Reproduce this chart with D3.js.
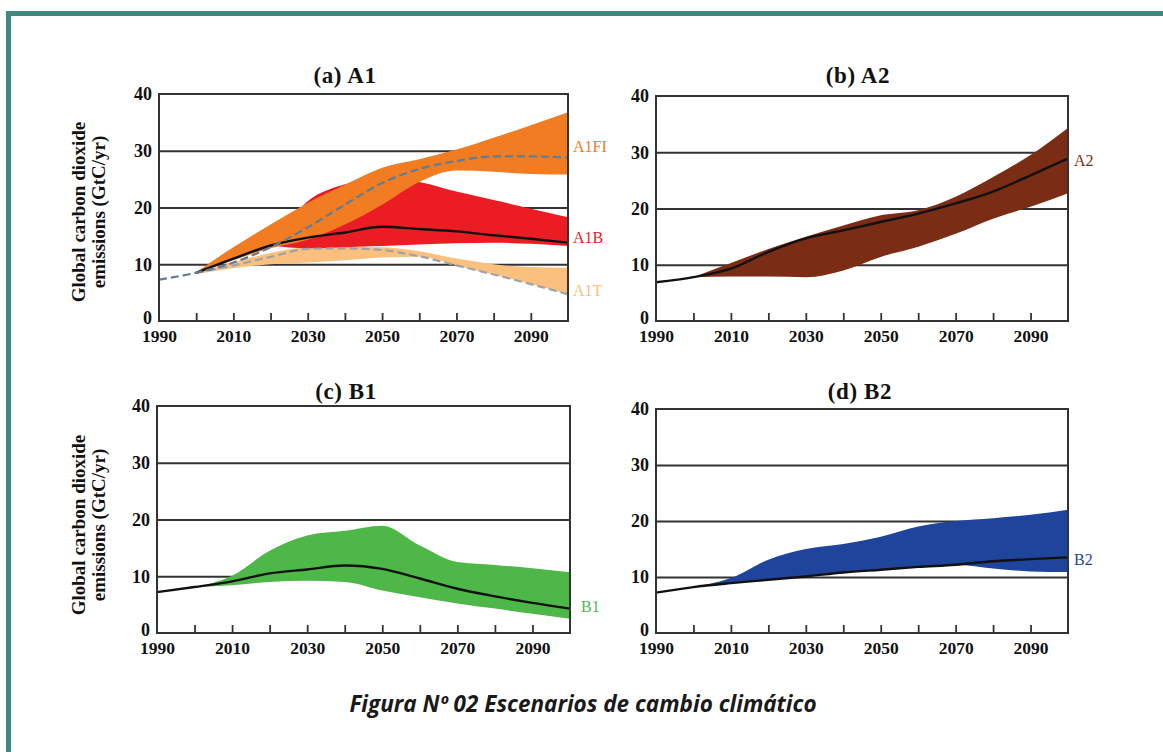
<!DOCTYPE html>
<html><head><meta charset="utf-8">
<script src="https://cdn.jsdelivr.net/npm/d3@7"></script>
<style>
body{margin:0;background:#fff}
svg{display:block}
.serif{font-family:"Liberation Serif","DejaVu Serif",serif}
</style></head>
<body>
<svg id="chart" width="1163" height="752"></svg>
<script>
// ---------- data ----------
const yearsAll = [1990,2000,2010,2020,2030,2040,2050,2060,2070,2080,2090,2100];
const years2000 = [2000,2010,2020,2030,2040,2050,2060,2070,2080,2090,2100];
const years2020 = [2020,2030,2040,2050,2060,2070,2080,2090,2100];
const yTicks = [0,10,20,30,40];
const xLabelTicks = [1990,2010,2030,2050,2070,2090];
const xMinorTicks = [2000,2010,2020,2030,2040,2050,2060,2070,2080,2090];

// (a) A1
const a1fiUpper = [8.6,13,17,20.8,24,27,28.5,30.2,32.3,34.5,36.8];
const a1fiLower = [8.4,10.7,12.8,14.3,17,20.5,24.5,26.5,26.3,25.9,25.8];
const a1bUpper  = [13.3,21.1,24.1,25.2,24.5,22.8,21.3,19.8,18.3];
const a1bLower  = [13.3,12.8,13,13.2,13.5,13.7,13.8,13.6,13.2];
const a1tUpper  = [8.5,10.3,12,13,13.1,13,12.3,11,10,9.5,9.4];
const a1tLower  = [8.3,9.3,10,10.3,10.7,11.2,11.3,9.8,8.2,6.5,4.7];
const a1fiMedian = [7.3,8.5,10.3,13,16.5,20.5,24.3,26.8,28.2,29,29,28.8];
const a1bMedian  = [8.5,11,13.3,14.7,15.6,16.6,16.2,15.8,15.1,14.5,13.8];
const a1tMedian  = [8.5,9.8,11.3,12.7,12.8,12.5,11.4,9.8,8.2,6.5,4.7];
// (b) A2
const a2Upper  = [7.8,10.3,12.8,15,17,18.8,19.7,22.1,25.6,29.5,34.3];
const a2Lower  = [7.8,7.9,7.9,7.8,9,11.4,13.2,15.5,18.2,20.3,22.7];
const a2Median = [6.9,7.8,9.3,12.3,14.7,16.1,17.6,19.1,20.9,23.0,25.9,28.9];
// (c) B1
const b1Upper  = [8.1,10.1,14.5,17.2,18,18.9,15.4,12.5,12,11.4,10.7];
const b1Lower  = [8.1,8.4,9,9.2,9,7.5,6.3,5.2,4.3,3.4,2.5];
const b1Median = [7.2,8.1,9.1,10.5,11.2,11.9,11.3,9.6,7.8,6.45,5.3,4.3];
// (d) B2
const b2Upper  = [8.2,9.8,13.1,15,15.9,17.2,19,20,20.5,21.1,22];
const b2Lower  = [8.2,8.9,9.5,10.1,10.8,11.3,11.8,12.2,11.5,11,10.9];
const b2Median = [7.2,8.2,8.9,9.5,10.1,10.8,11.3,11.8,12.2,12.8,13.2,13.5];

const titles = ["(a) A1","(b) A2","(c) B1","(d) B2"];
const yTitle = ["Global carbon dioxide","emissions (GtC/yr)"];
const caption = "Figura Nº 02 Escenarios de cambio climático";

// ---------- layout ----------
const svg = d3.select("#chart");
svg.append("rect").attr("x",6).attr("y",11).attr("width",1163).attr("height",5).attr("fill","#3f8a80");
svg.append("rect").attr("x",6).attr("y",11).attr("width",5).attr("height",752).attr("fill","#3f8a80");

const panels = [
  {x0:159,x1:568,y0:94,y1:321,tx:345,ty:83,ylab:true,ylabY:212},
  {x0:656,x1:1068,y0:96,y1:321,tx:858,ty:83},
  {x0:157,x1:570,y0:406,y1:633,tx:346,ty:399,ylab:true,ylabY:525},
  {x0:656,x1:1068,y0:409,y1:633,tx:860,ty:399}
];

function makePanel(p, i){
  const x = d3.scaleLinear().domain([1990,2100]).range([p.x0,p.x1]);
  const y = d3.scaleLinear().domain([0,40]).range([p.y1,p.y0]);
  const g = svg.append("g");
  g.append("g").attr("transform",`translate(${p.x0},0)`)
    .call(d3.axisLeft(y).tickValues([10,20,30]).tickSize(-(p.x1-p.x0)).tickFormat(""))
    .call(s=>s.select(".domain").remove())
    .call(s=>s.selectAll("line").attr("stroke","#333").attr("stroke-width",2.2));
  svg.append("text").attr("class","serif").attr("x",p.tx).attr("y",p.ty)
    .attr("text-anchor","middle").attr("font-size",23).attr("font-weight","bold").attr("fill","#111")
    .attr("letter-spacing",0.6).text(titles[i]);
  return {g,x,y,p};
}

function finishPanel(P){
  const {g,x,y,p} = P;
  g.append("rect").attr("x",p.x0).attr("y",p.y0).attr("width",p.x1-p.x0).attr("height",p.y1-p.y0)
    .attr("fill","none").attr("stroke","#333").attr("stroke-width",2);
  g.append("g").attr("transform",`translate(0,${p.y1})`)
    .call(d3.axisBottom(x).tickValues(xMinorTicks).tickSize(-8).tickFormat(""))
    .call(s=>s.select(".domain").remove())
    .call(s=>s.selectAll("line").attr("stroke","#333").attr("stroke-width",1.8));
  g.append("g").attr("transform",`translate(0,${p.y1})`)
    .call(d3.axisBottom(x).tickValues(xLabelTicks).tickSize(0).tickPadding(9).tickFormat(d3.format("d")))
    .call(s=>s.select(".domain").remove())
    .call(s=>s.selectAll("text").attr("class","serif").attr("font-size",17.5).attr("font-weight","bold").attr("fill","#111"));
  g.append("g").attr("transform",`translate(${p.x0},0)`)
    .call(d3.axisLeft(y).tickValues(yTicks).tickSize(0).tickPadding(7))
    .call(s=>s.select(".domain").remove())
    .call(s=>s.selectAll("text").attr("class","serif").attr("font-size",18).attr("font-weight","bold").attr("fill","#111")
      .attr("dy",(d)=> d===0 ? "0.15em" : "0.32em"));
  if(p.ylab){
    const t = svg.append("text").attr("class","serif").attr("font-weight","bold").attr("font-size",19)
      .attr("fill","#111").attr("text-anchor","middle")
      .attr("transform",`translate(85,${p.ylabY}) rotate(-90)`);
    t.append("tspan").attr("x",0).attr("dy",0).text(yTitle[0]);
    t.append("tspan").attr("x",0).attr("dy",20).text(yTitle[1]);
  }
}

function band(P, yrs, lo, hi, color){
  const area = d3.area().x((d,i)=>P.x(yrs[i])).y0((d,i)=>P.y(lo[i])).y1((d,i)=>P.y(hi[i])).curve(d3.curveMonotoneX);
  P.g.append("path").datum(yrs).attr("d",area).attr("fill",color);
}
function line(P, yrs, vals, color, width, dash){
  const ln = d3.line().x((d,i)=>P.x(yrs[i])).y((d,i)=>P.y(vals[i])).curve(d3.curveMonotoneX);
  const path = P.g.append("path").datum(yrs).attr("d",ln).attr("fill","none")
    .attr("stroke",color).attr("stroke-width",width).attr("stroke-linejoin","round");
  if(dash) path.attr("stroke-dasharray",dash);
}
function label(P, yr, val, txt, color, dx){
  svg.append("text").attr("class","serif").attr("x",P.x(yr)+dx).attr("y",P.y(val))
    .attr("dy","0.35em").attr("font-size",16).attr("fill",color).text(txt);
}

// Panel a
const PA = makePanel(panels[0],0);
band(PA, years2000, a1tLower, a1tUpper, "#fbbf7e");
band(PA, years2020, a1bLower, a1bUpper, "#ec1c24");
band(PA, years2000, a1fiLower, a1fiUpper, "#f27c22");
line(PA, years2000, a1tMedian, "#9ea3a8", 2.2, "8,4");
line(PA, years2000, a1bMedian, "#111", 2.4);
line(PA, yearsAll, a1fiMedian, "#5f7c98", 2.2, "8,4");
finishPanel(PA);
label(PA, 2100, 30.7, "A1FI", "#f27c22", 5);
label(PA, 2100, 14.8, "A1B", "#ec1c24", 5);
label(PA, 2100, 5.4, "A1T", "#fbbf7e", 5);

// Panel b
const PB = makePanel(panels[1],1);
band(PB, years2000, a2Lower, a2Upper, "#7a2d14");
line(PB, yearsAll, a2Median, "#111", 2.4);
finishPanel(PB);
label(PB, 2100, 28.6, "A2", "#7a2d14", 6);

// Panel c
const PC = makePanel(panels[2],2);
band(PC, years2000, b1Lower, b1Upper, "#4db848");
line(PC, yearsAll, b1Median, "#111", 2.4);
finishPanel(PC);
label(PC, 2100, 4.6, "B1", "#4db848", 11);

// Panel d
const PD = makePanel(panels[3],3);
band(PD, years2000, b2Lower, b2Upper, "#1f449b");
line(PD, yearsAll, b2Median, "#111", 2.4);
finishPanel(PD);
label(PD, 2100, 13.1, "B2", "#1f449b", 6);

// caption
svg.append("text").attr("x",583).attr("y",712).attr("text-anchor","middle")
  .attr("font-family","'Open Sans',sans-serif").attr("font-style","italic").attr("font-weight","bold")
  .attr("font-size",22.5).attr("fill","#1a1a1a").text(caption);
</script>
</body></html>
